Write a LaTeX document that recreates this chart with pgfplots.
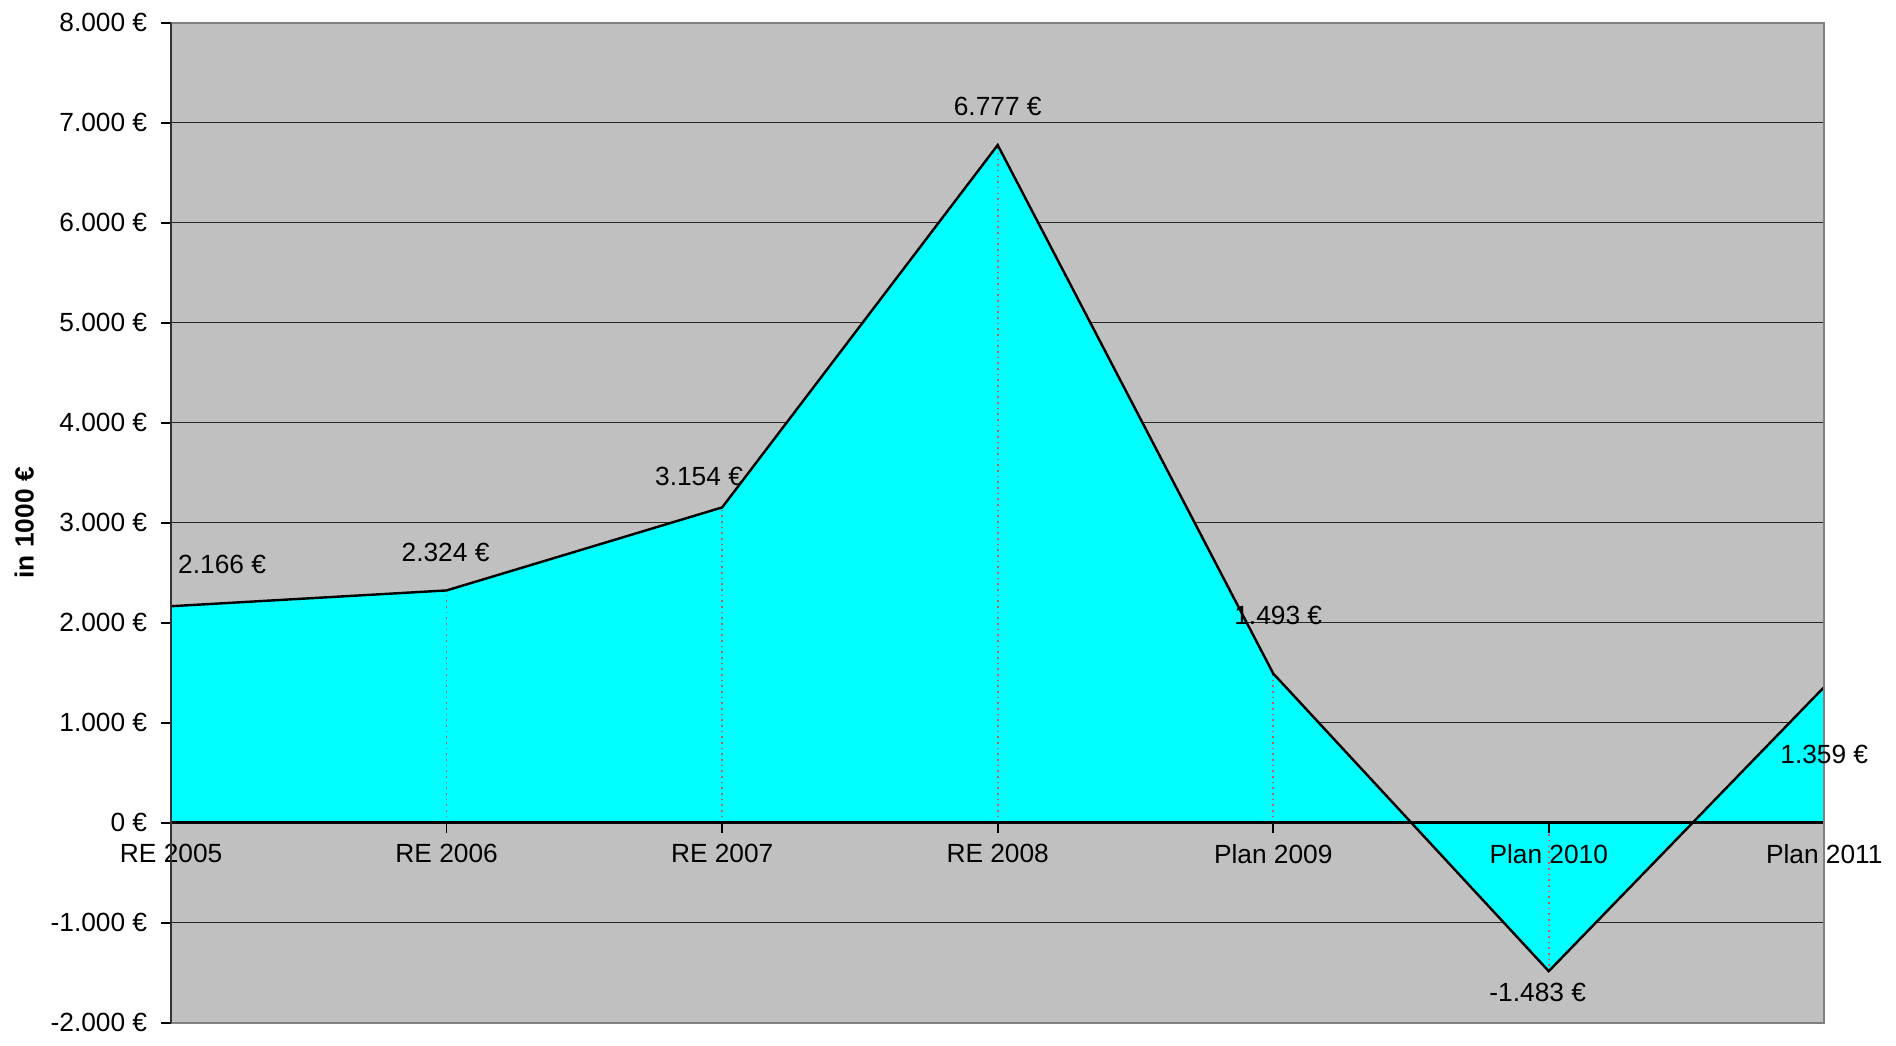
\documentclass[border=0pt]{standalone}
\usepackage{pgfplots}
\pgfplotsset{compat=1.18}
\usepackage{fontspec}
\setmainfont{Liberation Sans}

\definecolor{plotbg}{RGB}{192,192,192}
\definecolor{areafill}{RGB}{0,255,255}
\definecolor{dropcol}{RGB}{200,90,90}

\pgfplotsset{
  frame/.style={
    scale only axis,
    width=408.6pt, height=247.2pt,
    xmin=0, xmax=6, ymin=-2000, ymax=8000,
    ytick={-2000,-1000,0,1000,2000,3000,4000,5000,6000,7000,8000},
  },
}

\begin{document}
\begin{tikzpicture}
% back layer: background, grid, area
\begin{axis}[
  frame,
  axis line style={draw=none},
  axis background/.style={fill=plotbg},
  xtick=\empty,
  yticklabels={},
  major tick length=0pt,
  ymajorgrids,
  major grid style={black!85, line width=0.3pt},
]
\addplot[fill=areafill, draw=none] coordinates
{(0,2166) (1,2324) (2,3154) (3,6777) (4,1493) (5,-1483) (6,1359)} \closedcycle;
\addplot[ycomb, densely dotted, dropcol, line width=0.4pt] coordinates
{(1,2324) (2,3154) (3,6777) (4,1493) (5,-1483)};
\addplot[black, line width=0.6pt] coordinates
{(0,2166) (1,2324) (2,3154) (3,6777) (4,1493) (5,-1483) (6,1359)};
\end{axis}
% front layer: axes, ticks, labels
\begin{axis}[
  frame,
  axis x line=middle, axis y line=left,
  axis line style={-},
  hide obscured x ticks=false,
  xtick={0,1,2,3,4,5,6},
  xticklabels={RE 2005, RE 2006, RE 2007, RE 2008, Plan 2009, Plan 2010, Plan 2011},
  yticklabels={-2.000 €,-1.000 €,0 €,1.000 €,2.000 €,3.000 €,4.000 €,5.000 €,6.000 €,7.000 €,8.000 €},
  tick align=outside,
  major tick length=2.4pt,
  tick style={black, line width=0.4pt},
  x axis line style={black, line width=0.8pt},
  y axis line style={black!80, line width=0.5pt},
  every tick label/.append style={font=\fontsize{6.5}{8}\selectfont, text=black},
  x tick label style={yshift=0.6pt},
  ylabel={in 1000 €},
  every axis y label/.style={at={(axis description cs:0,0.5)}, rotate=90,
    anchor=center, yshift=36.3pt, font=\fontsize{6.5}{8}\selectfont\bfseries},
  clip=false,
]
\draw[black!50, line width=0.6pt] (rel axis cs:0,0) -- (rel axis cs:1,0) -- (rel axis cs:1,1) -- (rel axis cs:0,1);
\draw[black!80, line width=0.5pt] (rel axis cs:0,0) -- (rel axis cs:0,1);
% data labels
\begin{scope}[every node/.style={font=\fontsize{6.5}{8}\selectfont, inner sep=0pt}]
\node at (axis cs:0.185,2585) {2.166 €};
\node at (axis cs:0.996,2706) {2.324 €};
\node at (axis cs:1.916,3459) {3.154 €};
\node at (axis cs:3.0,7160) {6.777 €};
\node at (axis cs:4.018,2075) {1.493 €};
\node at (axis cs:4.96,-1699) {-1.483 €};
\node at (axis cs:6.0,680) {1.359 €};
\end{scope}
\coordinate (sw) at (rel axis cs:0,0);
\coordinate (ne) at (rel axis cs:1,1);
\end{axis}
\path (sw) ++(-42.3pt,-2.4pt) coordinate (bb1);
\path (ne) ++(17.1pt,4.2pt) coordinate (bb2);
\path (bb1) (bb2);
\end{tikzpicture}
\end{document}
